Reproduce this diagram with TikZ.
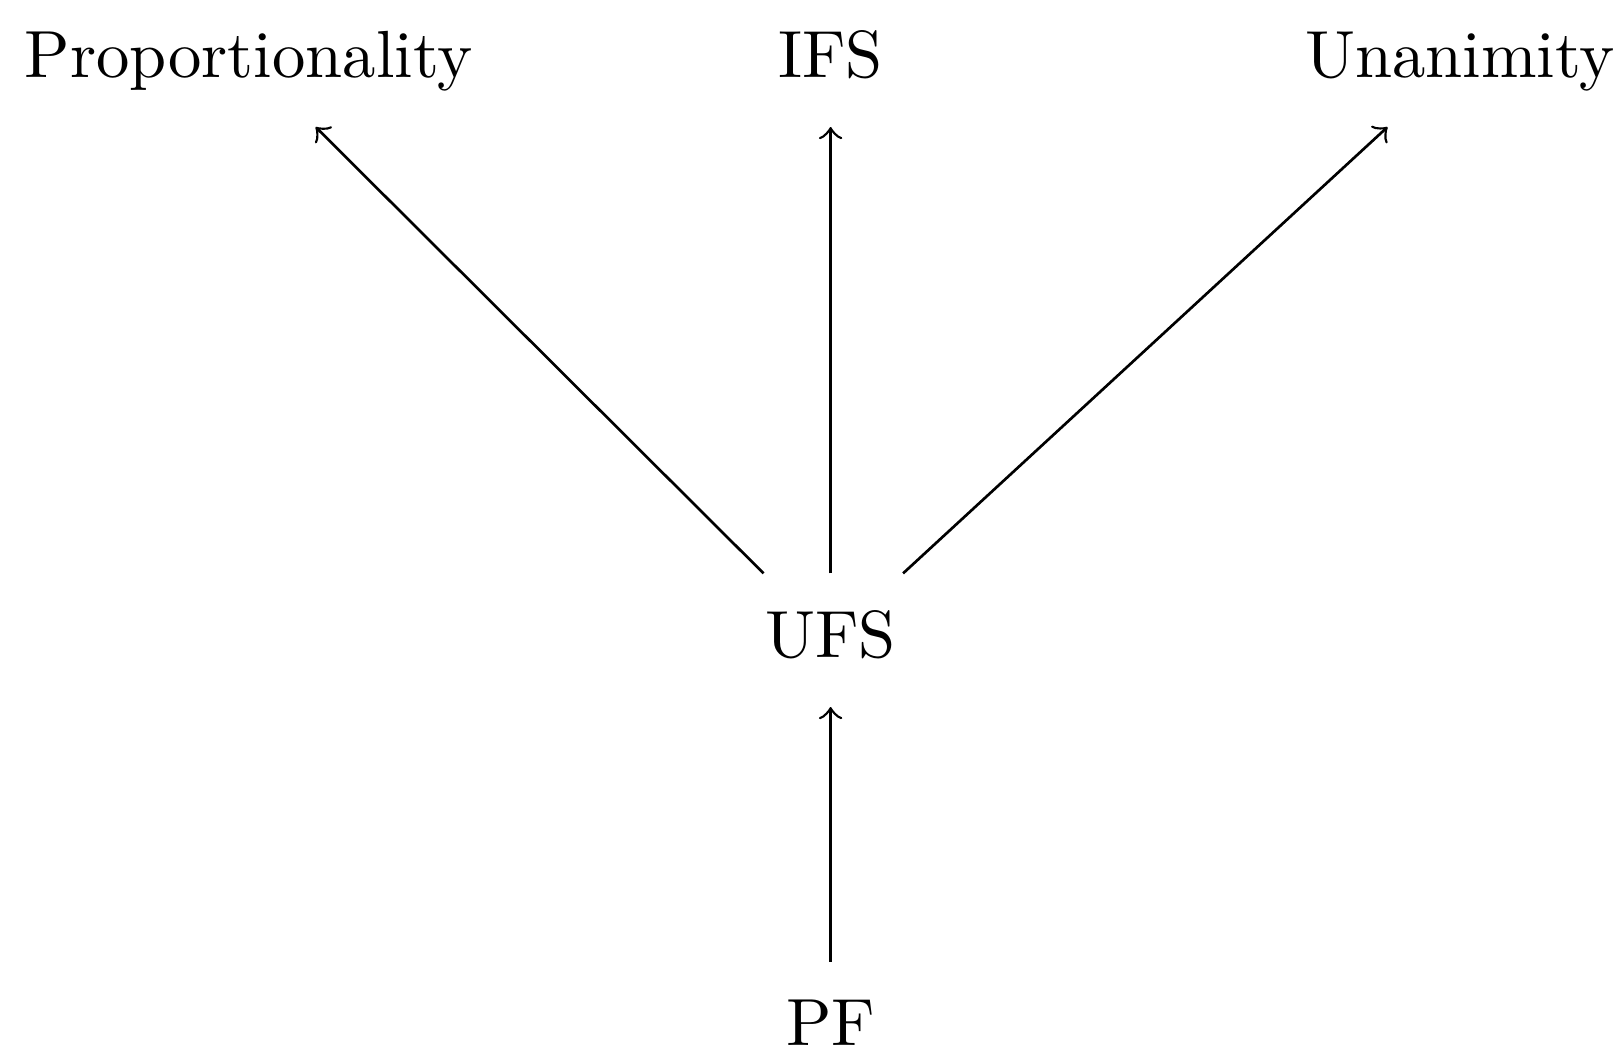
\documentclass[tikz,border=0pt]{standalone}
\begin{document}
\begin{tikzpicture}[x=0.15pt,y=-0.15pt,
  lbl/.style={anchor=base,inner xsep=4pt,inner ysep=0pt,text height=12.45pt,text depth=7.2pt,font=\normalsize},
  arr/.style={->,line width=0.4pt}]
\useasboundingbox (0,0) rectangle (1624,1055);
\node[lbl] (prop) at (248.6,77.7) {Proportionality};
\node[lbl] (ifs) at (830.6,77.7) {IFS};
\node[lbl] (unan) at (1460,77.7) {Unanimity};
\node[lbl] (ufs) at (830.6,657.7) {UFS};
\node[lbl] (pf) at (830.6,1046) {PF};
\draw[arr] (ufs) -- (prop);
\draw[arr] (ufs) -- (ifs);
\draw[arr] (ufs) -- (unan);
\draw[arr] (pf) -- (ufs);
\end{tikzpicture}
\end{document}
